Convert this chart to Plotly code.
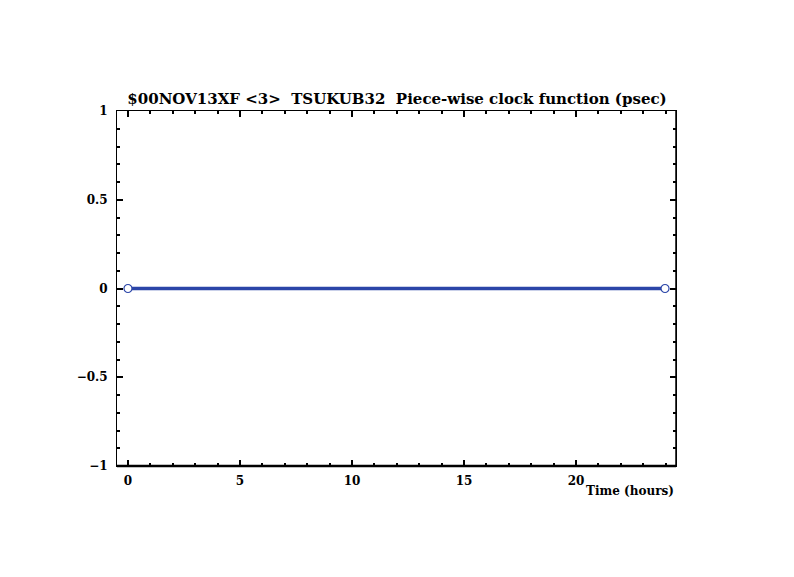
import plotly.graph_objects as go

time_hours = [0.0, 23.97]
clock_psec = [0.0, 0.0]
x_ticks = [0, 5, 10, 15, 20]
y_ticks = [-1, -0.5, 0, 0.5, 1]
y_tick_labels = ["\u22121", "\u22120.5", "0", "0.5", "1"]
title_text = "<b>$00NOV13XF <3>  TSUKUB32  Piece-wise clock function (psec)</b>"
x_title = "<b>Time (hours)</b>"

FONT = "DejaVu Serif"
BLUE = "#2b45a8"
W, H = 794, 577
OFF = 8  # page body offset

fig = go.Figure()
fig.add_trace(go.Scatter(
    x=time_hours, y=clock_psec, mode="lines+markers",
    line=dict(color=BLUE, width=3.5),
    marker=dict(symbol="circle", size=8, color="white", line=dict(color=BLUE, width=1.2)),
    showlegend=False, cliponaxis=False,
))

fig.update_layout(
    width=W, height=H,
    margin=dict(l=117 - OFF, r=118 + OFF, t=111 - OFF, b=111 + OFF),
    paper_bgcolor="white", plot_bgcolor="white",
    font=dict(family=FONT, size=12, color="black"),
    title=dict(text=title_text, x=(397 - OFF) / W, xanchor="center", y=1 - (99 - OFF) / H, yanchor="middle",
               font=dict(family=FONT, size=15, color="black")),
)
fig.update_xaxes(
    range=[-0.49, 24.46], showgrid=False, zeroline=False,
    tickmode="array", tickvals=x_ticks, ticktext=[f"<b>{v}</b>" for v in x_ticks],
    ticks="inside", ticklen=6, tickwidth=1.5, tickcolor="black",
    minor=dict(dtick=1, ticks="inside", ticklen=3, tickwidth=1.5, tickcolor="black", showgrid=False),
    showline=True, linecolor="black", linewidth=1, mirror="ticks",
    tickfont=dict(family=FONT, size=12), ticklabelstandoff=4,
)
fig.update_yaxes(
    range=[-1, 1], showgrid=False, zeroline=False,
    tickmode="array", tickvals=y_ticks, ticktext=[f"<b>{t}</b>" for t in y_tick_labels],
    ticks="inside", ticklen=6, tickwidth=1.5, tickcolor="black",
    minor=dict(dtick=0.1, ticks="inside", ticklen=3, tickwidth=1.5, tickcolor="black", showgrid=False),
    showline=True, linecolor="black", linewidth=1, mirror="ticks",
    tickfont=dict(family=FONT, size=12), ticklabelstandoff=6,
)
fig.add_shape(type="line", xref="paper", yref="paper", x0=0, x1=1, y0=0, y1=0,
              line=dict(color="black", width=2.5))
fig.add_shape(type="line", xref="paper", yref="paper", x0=1, x1=1, y0=0, y1=1,
              line=dict(color="black", width=1.5))
fig.add_annotation(text=x_title, xref="paper", yref="paper", x=1, y=0, yshift=-25,
                   xanchor="right", yanchor="middle", showarrow=False,
                   font=dict(family=FONT, size=12))

fig.write_html("out.html")
